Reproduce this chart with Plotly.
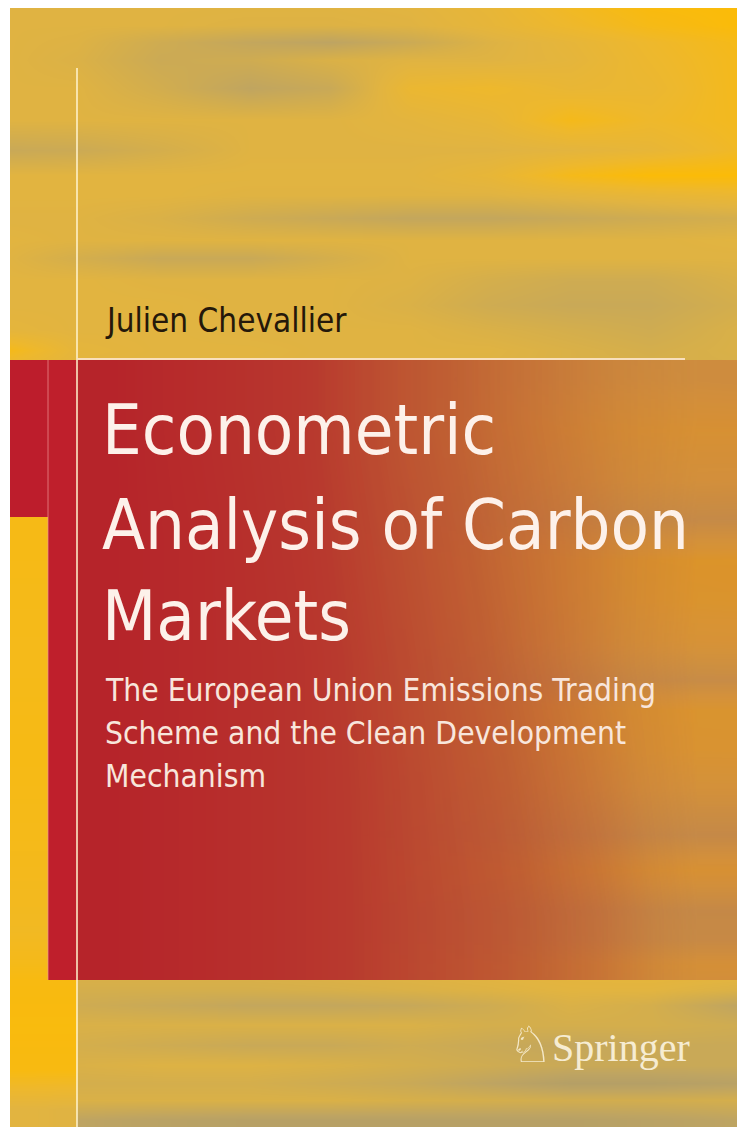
import plotly.graph_objects as go

# ---------------- data ----------------
AUTHOR = "Julien Chevallier"
TITLE_LINES = ["Econometric", "Analysis of Carbon", "Markets"]
SUBTITLE_LINES = ["The European Union Emissions Trading",
                  "Scheme and the Clean Development",
                  "Mechanism"]
PUBLISHER = "Springer"
LOGO = "\u2658"

# streaky background (intensity 0 = grey, 1 = bright yellow)
BG_X = [10, 77, 160, 250, 330, 410, 490, 570, 650, 745]
BG_Y = [7, 25, 42, 60, 88, 120, 150, 175, 195, 218, 240, 258, 280, 305, 330, 350,
        380, 430, 480, 520, 560, 600, 640, 680, 710, 750, 790, 835, 870, 910, 940, 965,
        990, 1005, 1025, 1045, 1065, 1083, 1100, 1120]
BG_Z = [
    [0.60, 0.60, 0.60, 0.60, 0.60, 0.62, 0.70, 0.85, 0.97, 1.00],
    [0.60, 0.60, 0.60, 0.58, 0.58, 0.60, 0.68, 0.80, 0.92, 1.00],
    [0.60, 0.58, 0.45, 0.35, 0.30, 0.42, 0.58, 0.68, 0.80, 0.92],
    [0.60, 0.56, 0.42, 0.45, 0.55, 0.60, 0.60, 0.66, 0.78, 0.90],
    [0.60, 0.60, 0.48, 0.32, 0.40, 0.75, 0.80, 0.72, 0.75, 0.90],
    [0.60, 0.60, 0.60, 0.60, 0.60, 0.64, 0.70, 0.90, 0.80, 0.88],
    [0.40, 0.42, 0.50, 0.60, 0.60, 0.60, 0.60, 0.64, 0.70, 0.85],
    [0.62, 0.62, 0.62, 0.62, 0.62, 0.62, 0.70, 0.90, 1.00, 1.00],
    [0.62, 0.62, 0.62, 0.60, 0.60, 0.60, 0.60, 0.65, 0.70, 0.75],
    [0.60, 0.60, 0.55, 0.45, 0.40, 0.35, 0.35, 0.40, 0.45, 0.50],
    [0.62, 0.60, 0.60, 0.60, 0.60, 0.60, 0.60, 0.60, 0.60, 0.62],
    [0.60, 0.50, 0.40, 0.40, 0.50, 0.60, 0.60, 0.60, 0.60, 0.60],
    [0.62, 0.62, 0.60, 0.60, 0.60, 0.58, 0.50, 0.45, 0.45, 0.55],
    [0.62, 0.62, 0.62, 0.60, 0.60, 0.55, 0.45, 0.40, 0.40, 0.50],
    [0.66, 0.62, 0.62, 0.60, 0.60, 0.60, 0.55, 0.50, 0.45, 0.55],
    [0.90, 0.66, 0.62, 0.62, 0.60, 0.60, 0.60, 0.55, 0.50, 0.55],
    [0.60, 0.60, 0.60, 0.60, 0.60, 0.60, 0.58, 0.55, 0.55, 0.50],
    [0.60, 0.60, 0.60, 0.60, 0.60, 0.62, 0.68, 0.75, 0.80, 0.80],
    [0.60, 0.60, 0.60, 0.60, 0.58, 0.58, 0.58, 0.60, 0.62, 0.60],
    [0.60, 0.60, 0.60, 0.60, 0.55, 0.50, 0.45, 0.40, 0.32, 0.30],
    [0.60, 0.60, 0.60, 0.60, 0.62, 0.66, 0.72, 0.82, 0.90, 0.92],
    [0.60, 0.60, 0.60, 0.60, 0.62, 0.64, 0.70, 0.78, 0.85, 0.88],
    [0.60, 0.60, 0.60, 0.58, 0.58, 0.60, 0.62, 0.66, 0.70, 0.72],
    [0.60, 0.60, 0.58, 0.55, 0.50, 0.45, 0.40, 0.38, 0.35, 0.35],
    [0.60, 0.60, 0.60, 0.62, 0.65, 0.70, 0.75, 0.80, 0.85, 0.85],
    [0.60, 0.60, 0.60, 0.62, 0.64, 0.66, 0.70, 0.76, 0.80, 0.82],
    [0.60, 0.60, 0.58, 0.56, 0.56, 0.56, 0.58, 0.60, 0.60, 0.60],
    [0.60, 0.58, 0.55, 0.50, 0.45, 0.40, 0.35, 0.32, 0.30, 0.30],
    [0.60, 0.60, 0.60, 0.62, 0.65, 0.68, 0.72, 0.76, 0.80, 0.80],
    [0.60, 0.55, 0.50, 0.45, 0.40, 0.36, 0.33, 0.30, 0.30, 0.30],
    [0.60, 0.55, 0.50, 0.45, 0.42, 0.40, 0.38, 0.36, 0.35, 0.35],
    [0.60, 0.58, 0.58, 0.58, 0.60, 0.62, 0.65, 0.68, 0.70, 0.70],
    [0.95, 0.50, 0.50, 0.50, 0.52, 0.55, 0.58, 0.62, 0.62, 0.55],
    [0.95, 0.45, 0.40, 0.35, 0.35, 0.38, 0.45, 0.55, 0.50, 0.30],
    [0.95, 0.55, 0.55, 0.55, 0.55, 0.55, 0.50, 0.50, 0.50, 0.45],
    [0.95, 0.50, 0.45, 0.40, 0.40, 0.45, 0.40, 0.35, 0.40, 0.40],
    [0.95, 0.55, 0.58, 0.58, 0.55, 0.50, 0.45, 0.40, 0.40, 0.40],
    [0.90, 0.50, 0.50, 0.50, 0.45, 0.40, 0.30, 0.20, 0.20, 0.25],
    [0.70, 0.55, 0.55, 0.55, 0.55, 0.52, 0.50, 0.48, 0.48, 0.50],
    [0.55, 0.30, 0.25, 0.22, 0.22, 0.22, 0.22, 0.22, 0.25, 0.30],
]

# left yellow margin strip (cell edges)
STRIP_X = [10, 48, 77]
STRIP_Y = [517, 600, 700, 800, 900, 960, 1000, 1050, 1090, 1127]
STRIP_Z = [
    [0.92, 0.92],
    [0.90, 0.90],
    [0.93, 0.93],
    [0.90, 0.90],
    [0.85, 0.85],
    [0.95, 0.95],
    [0.97, 0.97],
    [0.95, 0.95],
    [0.62, 0.60],
]

# red block gradient (cell edges); 0 = deep red, 1 = translucent orange
RED_X = [77, 150, 250, 350, 450, 550, 650, 745]
RED_Y = [360, 480, 600, 720, 850, 980]
RED_Z = [
    [0.00, 0.10, 0.22, 0.42, 0.58, 0.72, 0.85],
    [0.00, 0.08, 0.20, 0.38, 0.55, 0.70, 0.88],
    [0.00, 0.08, 0.18, 0.35, 0.52, 0.70, 0.90],
    [0.00, 0.08, 0.18, 0.33, 0.48, 0.66, 0.88],
    [0.00, 0.08, 0.18, 0.32, 0.45, 0.62, 0.85],
]

# ---------------- styles ----------------
BG_SCALE = [[0.0, "#a2966e"], [0.3, "#bea462"], [0.5, "#d4ae4c"],
            [0.62, "#e2b440"], [0.8, "#eeb82c"], [1.0, "#fbbb08"]]
RED_SCALE = [[0.0, "rgba(182,36,42,1)"], [0.25, "rgba(184,58,46,1)"],
             [0.5, "rgba(188,88,50,0.92)"], [0.75, "rgba(198,118,56,0.72)"],
             [1.0, "rgba(205,125,55,0.5)"]]
SANS = "DejaVu Sans Condensed, DejaVu Sans, sans-serif"
SERIF = "Liberation Serif, DejaVu Serif, serif"

fig = go.Figure()
fig.add_trace(go.Heatmap(x=BG_X, y=BG_Y, z=BG_Z, zmin=0, zmax=1, colorscale=BG_SCALE,
                         zsmooth="best", showscale=False, hoverinfo="skip"))
fig.add_trace(go.Heatmap(x=STRIP_X, y=STRIP_Y, z=STRIP_Z, zmin=0, zmax=1, colorscale=BG_SCALE,
                         zsmooth="best", showscale=False, hoverinfo="skip"))
fig.add_trace(go.Heatmap(x=RED_X, y=RED_Y, z=RED_Z, zmin=0, zmax=1, colorscale=RED_SCALE,
                         zsmooth="best", showscale=False, hoverinfo="skip"))

shapes = [
    dict(type="rect", x0=10, x1=48, y0=360, y1=517, fillcolor="#bd1d2c", line_width=0, layer="above"),
    dict(type="rect", x0=48, x1=77, y0=360, y1=980, fillcolor="#bf1f2c", line_width=0, layer="above"),
    dict(type="line", x0=48, x1=48, y0=360, y1=980, line=dict(color="rgba(240,150,150,0.7)", width=1), layer="above"),
    dict(type="line", x0=77, x1=77, y0=68, y1=1127, line=dict(color="rgba(255,242,205,0.95)", width=1.6), layer="above"),
    dict(type="line", x0=77, x1=685, y0=359, y1=359, line=dict(color="rgba(250,225,195,0.95)", width=2), layer="above"),
]

ann = []
ann.append(dict(x=103, y=320, text=AUTHOR, showarrow=False, xanchor="left", yanchor="middle",
                font=dict(family=SANS, size=33, color="#24180a")))
for i, line in enumerate(TITLE_LINES):
    ann.append(dict(x=100, y=[430, 525, 616][i], text=line, showarrow=False, xanchor="left", yanchor="middle",
                    font=dict(family=SANS, size=70, color="#fdf1ea")))
for i, line in enumerate(SUBTITLE_LINES):
    ann.append(dict(x=103, y=690 + i * 43, text=line, showarrow=False, xanchor="left", yanchor="middle",
                    font=dict(family=SANS, size=31.5, color="#f8e6dc")))
ann.append(dict(x=506, y=1045, text=LOGO, showarrow=False, xanchor="left", yanchor="middle",
                font=dict(family="DejaVu Sans", size=50, color="#f4e8c8")))
ann.append(dict(x=550, y=1047, text=PUBLISHER, showarrow=False, xanchor="left", yanchor="middle",
                font=dict(family=SERIF, size=40, color="#f6ecd2")))

# the page body has an 8px margin, so the figure is sized to the visible window
fig.update_layout(
    width=737, height=1119,
    margin=dict(l=2, r=0, t=0, b=0, pad=0),
    paper_bgcolor="white", plot_bgcolor="white",
    xaxis=dict(range=[10, 745], visible=False, fixedrange=True),
    yaxis=dict(range=[1127, 8], visible=False, fixedrange=True),
    shapes=shapes, annotations=ann, showlegend=False,
)
fig.write_html("out.html", config={"displayModeBar": False})
